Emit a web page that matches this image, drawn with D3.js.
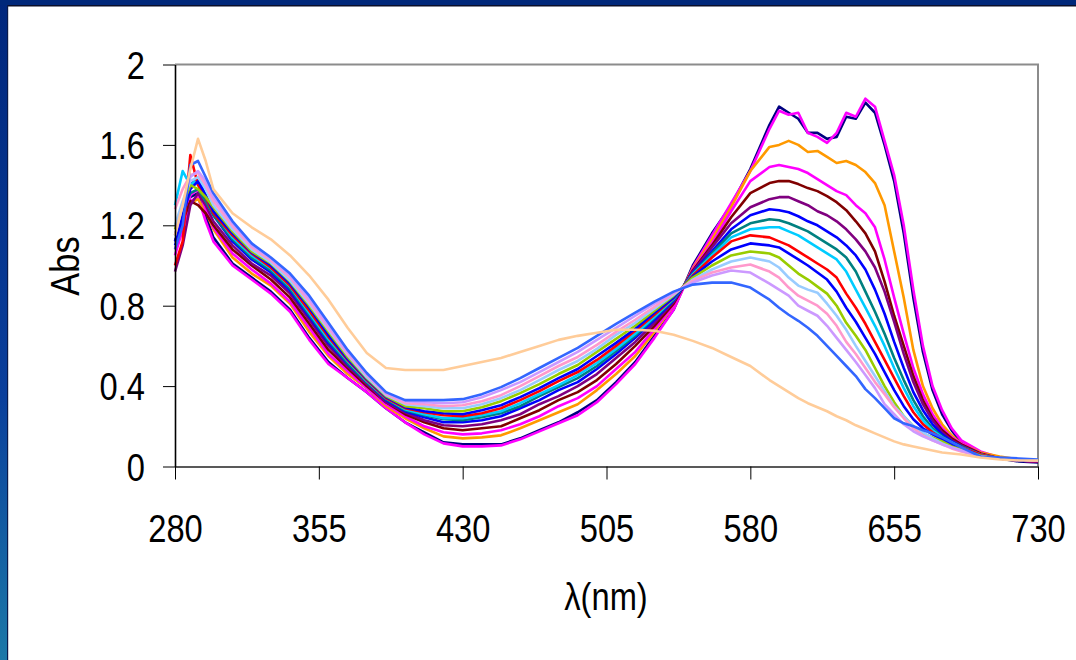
<!DOCTYPE html>
<html>
<head>
<meta charset="utf-8">
<script src="https://d3js.org/d3.v7.min.js"></script>
<style>
  body { margin: 0; background: #fff; }
  svg text { font-family: "Liberation Sans", Arial, sans-serif; fill: #000; }
</style>
</head>
<body>
<div id="chart"></div>
<script>
"use strict"
// comprimentos de onda (nm) compartilhados por todas as curvas
const wl = [280, 284, 288, 292, 296, 300, 310, 320, 330, 340, 350, 360, 370, 380, 390, 400, 410, 420, 430, 440,
  450, 460, 470, 480, 490, 500, 510, 520, 530, 540, 550, 560, 570, 580, 590, 595, 600, 605, 610, 615,
  620, 625, 630, 635, 640, 645, 650, 655, 660, 665, 670, 675, 680, 685, 690, 700, 710, 720, 730];

const s01 = [1.12, 1.22, 1.34, 1.36, 1.25, 1.14, 1.01, 0.94, 0.87, 0.78, 0.64, 0.52, 0.44, 0.37, 0.29, 0.22, 0.17, 0.12, 0.11, 0.11,
  0.11, 0.14, 0.18, 0.22, 0.27, 0.33, 0.42, 0.52, 0.65, 0.78, 1.00, 1.16, 1.30, 1.48, 1.70, 1.79, 1.76, 1.73, 1.66, 1.66,
  1.63, 1.64, 1.74, 1.73, 1.81, 1.76, 1.60, 1.42, 1.16, 0.84, 0.57, 0.38, 0.26, 0.18, 0.12, 0.07, 0.04, 0.025, 0.02];
const s02 = [1.08, 1.18, 1.32, 1.34, 1.22, 1.12, 1.00, 0.93, 0.86, 0.77, 0.63, 0.51, 0.44, 0.37, 0.29, 0.22, 0.16, 0.115, 0.10, 0.10,
  0.105, 0.135, 0.175, 0.215, 0.255, 0.32, 0.41, 0.51, 0.64, 0.78, 0.99, 1.15, 1.31, 1.47, 1.68, 1.77, 1.75, 1.76, 1.66, 1.64,
  1.61, 1.66, 1.76, 1.74, 1.83, 1.79, 1.62, 1.45, 1.20, 0.88, 0.60, 0.40, 0.28, 0.19, 0.13, 0.075, 0.045, 0.03, 0.025];
const s03 = [1.20, 1.28, 1.31, 1.33, 1.27, 1.18, 1.04, 0.96, 0.90, 0.81, 0.67, 0.55, 0.46, 0.39, 0.30, 0.24, 0.19, 0.15, 0.14, 0.145,
  0.155, 0.19, 0.23, 0.27, 0.31, 0.38, 0.46, 0.55, 0.67, 0.80, 0.985, 1.13, 1.29, 1.47, 1.59, 1.60, 1.62, 1.60, 1.565, 1.57,
  1.54, 1.51, 1.52, 1.50, 1.465, 1.41, 1.30, 1.07, 0.84, 0.58, 0.40, 0.29, 0.21, 0.155, 0.115, 0.07, 0.05, 0.035, 0.03];
const s04 = [1.05, 1.18, 1.35, 1.38, 1.28, 1.19, 1.06, 0.98, 0.91, 0.82, 0.69, 0.56, 0.475, 0.39, 0.31, 0.25, 0.20, 0.17, 0.16, 0.165,
  0.18, 0.21, 0.25, 0.30, 0.34, 0.40, 0.485, 0.57, 0.685, 0.80, 0.98, 1.11, 1.27, 1.42, 1.49, 1.50, 1.49, 1.48, 1.46, 1.43,
  1.40, 1.37, 1.35, 1.30, 1.26, 1.19, 1.03, 0.84, 0.66, 0.49, 0.36, 0.26, 0.19, 0.145, 0.115, 0.065, 0.04, 0.03, 0.025];
const s05 = [1.12, 1.22, 1.32, 1.30, 1.26, 1.20, 1.08, 1.00, 0.93, 0.84, 0.71, 0.58, 0.49, 0.40, 0.32, 0.26, 0.22, 0.19, 0.18, 0.19,
  0.20, 0.24, 0.28, 0.33, 0.37, 0.43, 0.51, 0.60, 0.70, 0.81, 0.975, 1.10, 1.24, 1.36, 1.41, 1.42, 1.42, 1.405, 1.385, 1.37,
  1.345, 1.315, 1.275, 1.22, 1.16, 1.07, 0.92, 0.75, 0.60, 0.45, 0.33, 0.24, 0.18, 0.14, 0.11, 0.065, 0.04, 0.03, 0.025];
const s06 = [0.97, 1.10, 1.30, 1.36, 1.30, 1.22, 1.10, 1.01, 0.95, 0.86, 0.73, 0.60, 0.50, 0.41, 0.32, 0.27, 0.23, 0.205, 0.20, 0.21,
  0.23, 0.26, 0.31, 0.35, 0.40, 0.46, 0.54, 0.62, 0.715, 0.82, 0.97, 1.09, 1.21, 1.29, 1.33, 1.34, 1.34, 1.32, 1.30, 1.27,
  1.25, 1.22, 1.18, 1.13, 1.07, 0.99, 0.87, 0.72, 0.56, 0.42, 0.31, 0.23, 0.17, 0.13, 0.105, 0.06, 0.04, 0.03, 0.025];
const s07 = [1.10, 1.22, 1.40, 1.44, 1.33, 1.25, 1.12, 1.03, 0.965, 0.875, 0.745, 0.615, 0.51, 0.42, 0.33, 0.275, 0.245, 0.22, 0.22, 0.23,
  0.25, 0.29, 0.33, 0.38, 0.42, 0.485, 0.56, 0.64, 0.73, 0.825, 0.965, 1.07, 1.18, 1.25, 1.28, 1.275, 1.265, 1.245, 1.22, 1.20,
  1.17, 1.14, 1.10, 1.05, 0.98, 0.88, 0.76, 0.62, 0.49, 0.37, 0.28, 0.21, 0.16, 0.125, 0.10, 0.06, 0.04, 0.03, 0.03];
const s08 = [1.15, 1.28, 1.36, 1.38, 1.32, 1.25, 1.13, 1.04, 0.975, 0.885, 0.755, 0.625, 0.515, 0.42, 0.335, 0.28, 0.255, 0.235, 0.23, 0.245,
  0.265, 0.30, 0.35, 0.395, 0.44, 0.50, 0.575, 0.65, 0.74, 0.83, 0.96, 1.06, 1.16, 1.21, 1.23, 1.225, 1.21, 1.19, 1.17, 1.14,
  1.11, 1.08, 1.04, 0.97, 0.87, 0.77, 0.66, 0.54, 0.43, 0.33, 0.25, 0.19, 0.15, 0.12, 0.10, 0.06, 0.04, 0.035, 0.03];
const s09 = [1.30, 1.47, 1.40, 1.43, 1.35, 1.27, 1.14, 1.05, 0.985, 0.895, 0.765, 0.635, 0.525, 0.425, 0.34, 0.285, 0.26, 0.24, 0.24, 0.255,
  0.275, 0.315, 0.36, 0.405, 0.455, 0.515, 0.585, 0.66, 0.745, 0.835, 0.955, 1.05, 1.14, 1.18, 1.19, 1.19, 1.17, 1.15, 1.12, 1.09,
  1.06, 1.03, 0.97, 0.88, 0.79, 0.70, 0.60, 0.49, 0.39, 0.30, 0.23, 0.18, 0.145, 0.12, 0.095, 0.06, 0.04, 0.035, 0.03];
const s10 = [1.00, 1.12, 1.55, 1.40, 1.34, 1.26, 1.15, 1.06, 0.99, 0.90, 0.775, 0.645, 0.53, 0.43, 0.34, 0.29, 0.27, 0.255, 0.25, 0.265,
  0.29, 0.33, 0.375, 0.425, 0.47, 0.53, 0.60, 0.675, 0.755, 0.84, 0.95, 1.04, 1.12, 1.15, 1.14, 1.12, 1.10, 1.07, 1.04, 1.01,
  0.98, 0.94, 0.86, 0.79, 0.71, 0.62, 0.53, 0.44, 0.35, 0.27, 0.21, 0.17, 0.14, 0.115, 0.095, 0.06, 0.04, 0.035, 0.03];
const s11 = [1.12, 1.25, 1.38, 1.42, 1.35, 1.27, 1.16, 1.065, 1.00, 0.91, 0.79, 0.655, 0.535, 0.435, 0.345, 0.295, 0.275, 0.265, 0.26, 0.28,
  0.305, 0.345, 0.39, 0.44, 0.485, 0.55, 0.615, 0.685, 0.765, 0.84, 0.945, 1.02, 1.08, 1.11, 1.10, 1.09, 1.06, 1.03, 1.00, 0.965,
  0.93, 0.87, 0.79, 0.72, 0.64, 0.56, 0.47, 0.38, 0.30, 0.235, 0.19, 0.16, 0.135, 0.11, 0.09, 0.055, 0.04, 0.035, 0.03];
const s12 = [1.18, 1.30, 1.40, 1.38, 1.34, 1.29, 1.17, 1.07, 1.01, 0.92, 0.80, 0.67, 0.545, 0.44, 0.35, 0.30, 0.29, 0.275, 0.275, 0.295,
  0.325, 0.365, 0.41, 0.46, 0.505, 0.57, 0.635, 0.70, 0.775, 0.85, 0.94, 1.00, 1.05, 1.07, 1.06, 1.04, 1.00, 0.96, 0.93, 0.895,
  0.86, 0.80, 0.715, 0.65, 0.58, 0.49, 0.40, 0.32, 0.25, 0.20, 0.165, 0.145, 0.125, 0.10, 0.085, 0.055, 0.04, 0.035, 0.03];
const s13 = [1.20, 1.32, 1.42, 1.44, 1.38, 1.30, 1.18, 1.08, 1.015, 0.925, 0.81, 0.68, 0.555, 0.445, 0.355, 0.31, 0.30, 0.29, 0.29, 0.31,
  0.34, 0.38, 0.43, 0.48, 0.525, 0.585, 0.655, 0.715, 0.785, 0.855, 0.93, 0.98, 1.02, 1.04, 1.02, 0.99, 0.94, 0.90, 0.88, 0.865,
  0.81, 0.75, 0.68, 0.60, 0.525, 0.45, 0.375, 0.30, 0.25, 0.20, 0.17, 0.14, 0.115, 0.095, 0.08, 0.05, 0.04, 0.035, 0.03];
const s14 = [1.28, 1.38, 1.45, 1.46, 1.40, 1.32, 1.195, 1.09, 1.025, 0.94, 0.82, 0.69, 0.56, 0.455, 0.36, 0.315, 0.31, 0.30, 0.305, 0.325,
  0.355, 0.40, 0.45, 0.50, 0.545, 0.605, 0.67, 0.73, 0.795, 0.86, 0.925, 0.965, 0.99, 1.005, 0.97, 0.94, 0.89, 0.85, 0.825, 0.80,
  0.76, 0.70, 0.62, 0.56, 0.49, 0.42, 0.36, 0.295, 0.24, 0.19, 0.155, 0.13, 0.11, 0.09, 0.075, 0.05, 0.04, 0.035, 0.03];
const s15 = [1.15, 1.30, 1.44, 1.47, 1.42, 1.34, 1.21, 1.10, 1.035, 0.95, 0.835, 0.70, 0.57, 0.46, 0.365, 0.325, 0.32, 0.315, 0.32, 0.345,
  0.38, 0.42, 0.47, 0.52, 0.57, 0.63, 0.69, 0.75, 0.81, 0.865, 0.915, 0.95, 0.975, 0.965, 0.91, 0.88, 0.85, 0.80, 0.775, 0.75,
  0.70, 0.64, 0.58, 0.52, 0.455, 0.39, 0.31, 0.26, 0.21, 0.175, 0.15, 0.13, 0.11, 0.095, 0.08, 0.05, 0.04, 0.035, 0.03];
const s16 = [1.08, 1.20, 1.50, 1.52, 1.44, 1.36, 1.22, 1.11, 1.04, 0.96, 0.85, 0.715, 0.58, 0.465, 0.37, 0.33, 0.33, 0.33, 0.335, 0.36,
  0.395, 0.44, 0.49, 0.54, 0.59, 0.65, 0.71, 0.765, 0.82, 0.87, 0.905, 0.915, 0.915, 0.89, 0.83, 0.79, 0.755, 0.725, 0.69, 0.65,
  0.60, 0.55, 0.50, 0.45, 0.385, 0.34, 0.29, 0.24, 0.215, 0.20, 0.18, 0.165, 0.145, 0.12, 0.095, 0.05, 0.045, 0.04, 0.035];
const s17 = [1.15, 1.30, 1.48, 1.63, 1.52, 1.38, 1.26, 1.19, 1.13, 1.05, 0.95, 0.83, 0.69, 0.565, 0.49, 0.48, 0.48, 0.48, 0.50, 0.52,
  0.54, 0.57, 0.60, 0.63, 0.65, 0.665, 0.68, 0.68, 0.675, 0.655, 0.625, 0.59, 0.545, 0.50, 0.43, 0.40, 0.37, 0.34, 0.315, 0.295,
  0.275, 0.25, 0.23, 0.205, 0.185, 0.165, 0.145, 0.125, 0.11, 0.10, 0.09, 0.08, 0.07, 0.065, 0.06, 0.045, 0.035, 0.03, 0.03];

const series = [s01, s02, s03, s04, s05, s06, s07, s08, s09, s10, s11, s12, s13, s14, s15, s16, s17];
const cores = ["#000080", "#FF00FF", "#FF9900", "#FF00FF", "#800000", "#800080", "#0000FF", "#008080", "#00CCFF",
  "#FF0000", "#0000FF", "#99CC00", "#99CCFF", "#FF99CC", "#CC99FF", "#3366FF", "#FFCC99"];
const ticksX = [280, 355, 430, 505, 580, 655, 730];
const ticksY = [0, 0.4, 0.8, 1.2, 1.6, 2];

const larguraSVG = 1076, alturaSVG = 660;
const margin = {top: 64.5, right: 38, bottom: 193.5, left: 175};
const larguraVis = larguraSVG - margin.left - margin.right,
      alturaVis = alturaSVG - margin.top - margin.bottom;
const aperto = 0.86; // o texto original é estreito

const svg = d3.select("#chart").append("svg")
  .attr("width", larguraSVG)
  .attr("height", alturaSVG);

// moldura azul do slide
const grad = svg.append("defs").append("linearGradient")
  .attr("id", "faixa").attr("x1", 0).attr("y1", 0).attr("x2", 0).attr("y2", 1);
grad.append("stop").attr("offset", "0%").attr("stop-color", "#00267c");
grad.append("stop").attr("offset", "60%").attr("stop-color", "#0a3f9c");
grad.append("stop").attr("offset", "100%").attr("stop-color", "#1b78a8");
svg.append("rect").attr("x", 0).attr("y", 0).attr("width", 7).attr("height", alturaSVG).attr("fill", "url(#faixa)");
svg.append("rect").attr("x", 0).attr("y", 0).attr("width", larguraSVG).attr("height", 5).attr("fill", "#00287a");
svg.append("rect").attr("x", 7).attr("y", 5).attr("width", larguraSVG - 7).attr("height", 1.5).attr("fill", "#0a0f2a");
svg.append("rect").attr("x", 7).attr("y", 5).attr("width", 1.2).attr("height", alturaSVG - 5).attr("fill", "#0a1a4a");

const grafico = svg.append("g")
  .attr("transform", "translate(" + margin.left + "," + margin.top + ")");

const x = d3.scaleLinear().domain([280, 730]).range([0, larguraVis]);
const y = d3.scaleLinear().domain([0, 2]).range([alturaVis, 0]);

// borda cinza de cima e da direita
grafico.append("path")
  .attr("d", "M0,0H" + larguraVis + "V" + alturaVis)
  .attr("fill", "none").attr("stroke", "#8c8c8c").attr("stroke-width", 2);

// as curvas
const linha = d3.line()
  .x((d, i) => x(wl[i]))
  .y(d => y(d));

grafico.selectAll("path.curva")
  .data(series)
  .enter()
  .append("path")
    .attr("class", "curva")
    .attr("d", d => linha(d))
    .attr("fill", "none")
    .attr("stroke", (d, i) => cores[i])
    .attr("stroke-width", 2.6)
    .attr("stroke-linejoin", "round");

// eixos
const eixoX = grafico.append("g")
  .attr("transform", "translate(0," + alturaVis + ")")
  .call(d3.axisBottom(x).tickValues(ticksX).tickSize(13).tickSizeOuter(0).tickFormat(d3.format("d")));
eixoX.select(".domain").attr("stroke", "#222").attr("stroke-width", 1.6);
eixoX.selectAll(".tick line").attr("stroke", "#000");
eixoX.selectAll("text")
  .attr("y", 0).attr("dy", 0)
  .attr("font-size", 38)
  .attr("transform", "translate(0,75.5) scale(" + aperto + ",1)");

const eixoY = grafico.append("g")
  .call(d3.axisLeft(y).tickValues(ticksY).tickSize(12).tickSizeOuter(0).tickFormat(d => String(+d.toFixed(1))));
eixoY.select(".domain").attr("stroke", "#000").attr("stroke-width", 1.6);
eixoY.selectAll(".tick line").attr("stroke", "#000");
eixoY.selectAll("text")
  .attr("x", 0).attr("dy", "0.36em")
  .attr("font-size", 38)
  .attr("transform", "translate(-30,0) scale(" + aperto + ",1)");

// títulos dos eixos
svg.append("text")
  .attr("transform", "translate(79,266) rotate(-90) scale(" + aperto + ",1)")
  .attr("text-anchor", "middle")
  .attr("font-size", 40)
  .text("Abs");
svg.append("text")
  .attr("transform", "translate(606,610) scale(" + aperto + ",1)")
  .attr("text-anchor", "middle")
  .attr("font-size", 38)
  .text("λ(nm)");
</script>
</body>
</html>
